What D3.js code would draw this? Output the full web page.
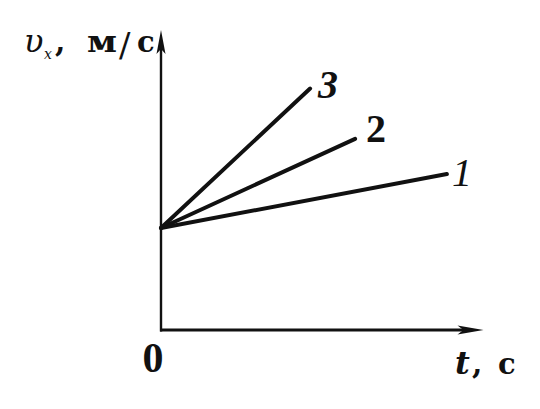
<!DOCTYPE html>
<html><head><meta charset="utf-8">
<script src="https://cdn.jsdelivr.net/npm/d3@7"></script>
<style>body{margin:0;background:#fff}svg{display:block}</style>
</head><body>
<script>
const series = ["1", "2", "3"];
const tStart = [0, 0, 0];
const vStart = [3.4, 3.4, 3.4];
const tEnd = [9.53, 6.47, 4.97];
const vEnd = [5.2, 6.37, 8.05];
const axisMax = {t: 10.75, v: 10.0};
const labels = {y: ["υ", "x", ",", "м", "/", "с"], x: ["t", ",", "с"], origin: "0"};

const W = 540, H = 409;
const svg = d3.select("body").append("svg").attr("width", W).attr("height", H);
const x = d3.scaleLinear().domain([0, 10]).range([161, 461]);
const y = d3.scaleLinear().domain([0, 10]).range([330, 30]);
const ink = "#111";
const font = "'DejaVu Serif', 'Liberation Serif', serif";
const digitFont = "'Liberation Serif', 'DejaVu Serif', serif";

// axes
svg.append("line").attr("x1", x(0) - 1).attr("y1", y(0)).attr("x2", x(axisMax.t) - 12).attr("y2", y(0))
  .attr("stroke", ink).attr("stroke-width", 2.8);
svg.append("line").attr("x1", x(0)).attr("y1", y(0) + 1.4).attr("x2", x(0)).attr("y2", y(axisMax.v) + 12)
  .attr("stroke", ink).attr("stroke-width", 2.4);
// arrowheads
const xt = x(axisMax.t), yt = y(0);
svg.append("path").attr("d", `M${xt},${yt} L${xt-26},${yt-4.5} L${xt-20},${yt} L${xt-26},${yt+4.5}Z`).attr("fill", ink);
const ax = x(0), ay = y(axisMax.v);
svg.append("path").attr("d", `M${ax},${ay} L${ax-4.5},${ay+24} L${ax},${ay+19} L${ax+4.5},${ay+24}Z`).attr("fill", ink);

// lines
series.forEach((s, i) => {
  svg.append("line").attr("x1", x(tStart[i])).attr("y1", y(vStart[i]))
    .attr("x2", x(tEnd[i])).attr("y2", y(vEnd[i]))
    .attr("stroke", ink).attr("stroke-width", 4).attr("stroke-linecap", "round");
});

const lblOff = [[5, 12], [11, 3], [8, 9]];
const lblStyle = ["italic", "normal", "italic"];
const lblWeight = ["normal", "bold", "bold"];
series.forEach((s, i) => {
  svg.append("text").attr("x", x(tEnd[i]) + lblOff[i][0]).attr("y", y(vEnd[i]) + lblOff[i][1])
    .attr("font-family", digitFont).attr("font-size", 40).attr("font-style", lblStyle[i])
    .attr("font-weight", lblWeight[i]).attr("fill", ink).text(s);
});

const t = (px, py, str, size, style, weight, fam) => svg.append("text").attr("x", px).attr("y", py)
  .attr("font-family", fam || font).attr("font-size", size).attr("font-style", style || "normal")
  .attr("font-weight", weight || "normal").attr("fill", ink).text(str);
// y label
t(24, 52, labels.y[0], 32, "italic");
t(44, 59, labels.y[1], 14, "italic");
t(55, 52, labels.y[2], 30, "normal", "bold");
t(87, 52, labels.y[3], 29, "normal", "bold").attr("textLength", 30).attr("lengthAdjust", "spacingAndGlyphs");
t(119, 57, labels.y[4], 34, "normal");
t(137, 52, labels.y[5], 29, "normal", "bold");

// x label
t(455, 374, labels.x[0], 32, "italic", "bold");
t(472, 374, labels.x[1], 30, "normal", "bold");
t(498, 374, labels.x[2], 29, "normal", "bold");

t(153, 372, labels.origin, 42, "normal", "bold", digitFont).attr("text-anchor", "middle");
</script>
</body></html>
